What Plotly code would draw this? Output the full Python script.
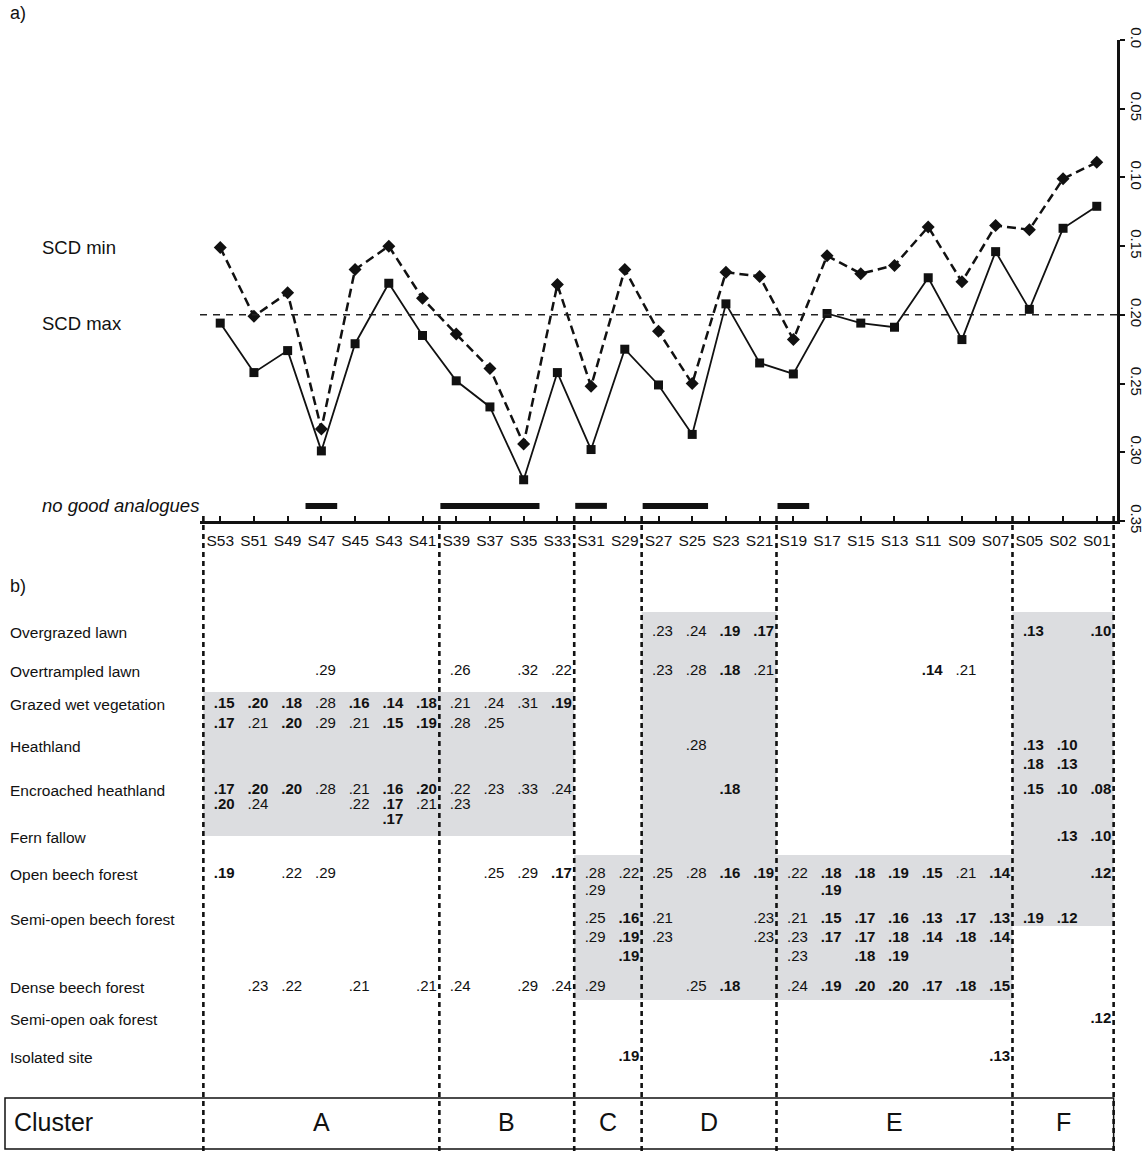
import plotly.graph_objects as go

W, H = 1145, 1151
FONT = "Liberation Sans, Arial, Helvetica, sans-serif"
INK = "#111111"

# ---------------- data ----------------
sites = ["S53", "S51", "S49", "S47", "S45", "S43", "S41", "S39", "S37", "S35", "S33",
         "S31", "S29", "S27", "S25", "S23", "S21", "S19", "S17", "S15", "S13", "S11",
         "S09", "S07", "S05", "S02", "S01"]
scd_min = [0.151, 0.201, 0.184, 0.283, 0.167, 0.150, 0.188, 0.214, 0.239, 0.294, 0.178,
           0.252, 0.167, 0.212, 0.250, 0.169, 0.172, 0.218, 0.157, 0.170, 0.164, 0.136,
           0.176, 0.135, 0.138, 0.101, 0.089]
scd_max = [0.206, 0.242, 0.226, 0.299, 0.221, 0.177, 0.215, 0.248, 0.267, 0.320, 0.242,
           0.298, 0.225, 0.251, 0.287, 0.192, 0.235, 0.243, 0.199, 0.206, 0.209, 0.173,
           0.218, 0.154, 0.196, 0.137, 0.121]
scd_threshold = 0.20
no_good_sites = ["S47", "S39", "S37", "S35", "S31", "S27", "S25", "S19"]
y_tick_values = [0.0, 0.05, 0.10, 0.15, 0.20, 0.25, 0.30, 0.35]
y_tick_labels = ["0.0", "0.05", "0.10", "0.15", "0.20", "0.25", "0.30", "0.35"]

cluster_names = ["A", "B", "C", "D", "E", "F"]
cluster_sizes = [7, 4, 2, 4, 7, 3]

habitats = ["Overgrazed lawn", "Overtrampled lawn", "Grazed wet vegetation", "Heathland",
            "Encroached heathland", "Fern fallow", "Open beech forest",
            "Semi-open beech forest", "Dense beech forest", "Semi-open oak forest",
            "Isolated site"]

# "*" marks a value printed in bold; several values per cell are separated by spaces
overgrazed_lawn = {"S27": ".23", "S25": ".24", "S23": "*.19", "S21": "*.17",
                   "S05": "*.13", "S01": "*.10"}
overtrampled_lawn = {"S47": ".29", "S39": ".26", "S35": ".32", "S33": ".22", "S27": ".23",
                     "S25": ".28", "S23": "*.18", "S21": ".21", "S11": "*.14", "S09": ".21"}
grazed_wet_vegetation = {"S53": "*.15 *.17", "S51": "*.20 .21", "S49": "*.18 *.20",
                         "S47": ".28 .29", "S45": "*.16 .21", "S43": "*.14 *.15",
                         "S41": "*.18 *.19", "S39": ".21 .28", "S37": ".24 .25",
                         "S35": ".31", "S33": "*.19"}
heathland = {"S25": ".28", "S05": "*.13 *.18", "S02": "*.10 *.13"}
encroached_heathland = {"S53": "*.17 *.20", "S51": "*.20 .24", "S49": "*.20", "S47": ".28",
                        "S45": ".21 .22", "S43": "*.16 *.17 *.17", "S41": "*.20 .21",
                        "S39": ".22 .23", "S37": ".23", "S35": ".33", "S33": ".24",
                        "S23": "*.18", "S05": "*.15", "S02": "*.10", "S01": "*.08"}
fern_fallow = {"S02": "*.13", "S01": "*.10"}
open_beech_forest = {"S53": "*.19", "S49": ".22", "S47": ".29", "S37": ".25", "S35": ".29",
                     "S33": "*.17", "S31": ".28 .29", "S29": ".22", "S27": ".25",
                     "S25": ".28", "S23": "*.16", "S21": "*.19", "S19": ".22",
                     "S17": "*.18 *.19", "S15": "*.18", "S13": "*.19", "S11": "*.15",
                     "S09": ".21", "S07": "*.14", "S01": "*.12"}
semi_open_beech_forest = {"S31": ".25 .29", "S29": "*.16 *.19 *.19", "S27": ".21 .23",
                          "S21": ".23 .23", "S19": ".21 .23 .23", "S17": "*.15 *.17",
                          "S15": "*.17 *.17 *.18", "S13": "*.16 *.18 *.19",
                          "S11": "*.13 *.14", "S09": "*.17 *.18", "S07": "*.13 *.14",
                          "S05": "*.19", "S02": "*.12"}
dense_beech_forest = {"S51": ".23", "S49": ".22", "S45": ".21", "S41": ".21", "S39": ".24",
                      "S35": ".29", "S33": ".24", "S31": ".29", "S25": ".25", "S23": "*.18",
                      "S19": ".24", "S17": "*.19", "S15": "*.20", "S13": "*.20",
                      "S11": "*.17", "S09": "*.18", "S07": "*.15"}
semi_open_oak_forest = {"S01": "*.12"}
isolated_site = {"S29": "*.19", "S07": "*.13"}

table_rows = [overgrazed_lawn, overtrampled_lawn, grazed_wet_vegetation, heathland,
              encroached_heathland, fern_fallow, open_beech_forest, semi_open_beech_forest,
              dense_beech_forest, semi_open_oak_forest, isolated_site]

# ---------------- layout geometry (pixels of the 1145x1151 page) ----------------
PX_L, PX_R, PX_T, PX_B = 200, 1117, 40, 521
X_LO, X_HI = -0.6, 26.6
ppu = (PX_R - PX_L) / (X_HI - X_LO)
x2_range = [X_LO - PX_L / ppu, X_HI + (W - PX_R) / ppu]
TABLE_TOP = 516
row_first = [632, 671, 704, 746, 790, 837, 874, 919, 987, 1019, 1057]
row_step = [18, 18, 20, 19, 15, 18, 17, 19, 18, 18, 18]
TEXT_DX = 0.12
NOGOOD_Y = 0.339
# shaded blocks: (first cluster, last cluster, first row, last row, top pad, bottom offset)
shades = [("A", "B", 2, 5, 12, -1), ("D", "D", 0, 8, 20, 13),
          ("C", "E", 6, 8, 19, 13), ("F", "F", 0, 7, 20, 7)]
CLUSTER_BOX = (1098, 1149)
CLUSTER_Y = 1122

idx = {s: i for i, s in enumerate(sites)}
xs = list(range(len(sites)))
bounds = [-0.5]
for n in cluster_sizes:
    bounds.append(bounds[-1] + n)

fig = go.Figure()

# threshold line
fig.add_shape(type="line", xref="x domain", yref="y", x0=0, x1=1, y0=scd_threshold,
              y1=scd_threshold, line=dict(color="#222", width=1.5, dash="7px,6px"))

fig.add_trace(go.Scatter(x=xs, y=scd_min, mode="lines+markers", name="SCD min",
                         line=dict(color=INK, width=2.5, dash="9px,5px"),
                         marker=dict(symbol="diamond", size=10, color=INK),
                         showlegend=False, hoverinfo="skip"))
fig.add_trace(go.Scatter(x=xs, y=scd_max, mode="lines+markers", name="SCD max",
                         line=dict(color=INK, width=1.8),
                         marker=dict(symbol="square", size=9, color=INK),
                         showlegend=False, hoverinfo="skip"))

# no good analogue bars
ng = sorted(idx[s] for s in no_good_sites)
runs = []
for i in ng:
    if runs and i == runs[-1][1] + 1:
        runs[-1][1] = i
    else:
        runs.append([i, i])
bx, by = [], []
for a, b in runs:
    bx += [a - 0.47, b + 0.47, None]
    by += [NOGOOD_Y, NOGOOD_Y, None]
fig.add_trace(go.Scatter(x=bx, y=by, mode="lines", line=dict(color=INK, width=6),
                         showlegend=False, hoverinfo="skip"))

# ---------------- table ----------------
for c0, c1, r0, r1, pad, off in shades:
    k0, k1 = cluster_names.index(c0), cluster_names.index(c1)
    fig.add_shape(type="rect", xref="x2", yref="y2", x0=bounds[k0], x1=bounds[k1 + 1],
                  y0=row_first[r0] - pad, y1=row_first[r1] + off,
                  fillcolor="#dcdde0", line=dict(width=0), layer="below")

sx, sy = [], []
for b in bounds:
    sx += [b, b, None]
    sy += [TABLE_TOP, H, None]
fig.add_trace(go.Scatter(x=sx, y=sy, xaxis="x2", yaxis="y2", mode="lines",
                         line=dict(color=INK, width=2.6, dash="5px,4px"),
                         showlegend=False, hoverinfo="skip"))

tx, ty, tt = [], [], []
for r, row in enumerate(table_rows):
    for s, cell in row.items():
        for j, tok in enumerate(cell.split()):
            v = tok.lstrip("*")
            tx.append(idx[s] + TEXT_DX)
            ty.append(row_first[r] + j * row_step[r])
            tt.append(f"<b>{v}</b>" if tok.startswith("*") else v)
fig.add_trace(go.Scatter(x=tx, y=ty, text=tt, mode="text", xaxis="x2", yaxis="y2",
                         textposition="middle center",
                         textfont=dict(size=15, family=FONT, color=INK),
                         showlegend=False, hoverinfo="skip", cliponaxis=False))

ann = []
for r, name in enumerate(habitats):
    ann.append(dict(text=name, xref="paper", x=8 / W, yref="y2", y=row_first[r],
                    xanchor="left", yanchor="middle", showarrow=False,
                    font=dict(size=15.5, family=FONT, color=INK)))

# cluster row
fig.add_shape(type="rect", xref="x2", yref="y2", x0=x2_range[0] + 5 / ppu, x1=bounds[-1],
              y0=CLUSTER_BOX[0], y1=CLUSTER_BOX[1], line=dict(color=INK, width=1.5))
ann.append(dict(text="Cluster", xref="paper", x=12 / W, yref="y2", y=CLUSTER_Y,
                xanchor="left", yanchor="middle", showarrow=False,
                font=dict(size=25, family=FONT, color=INK)))
for k, cname in enumerate(cluster_names):
    ann.append(dict(text=cname, xref="x2", x=(bounds[k] + bounds[k + 1]) / 2, yref="y2",
                    y=CLUSTER_Y, xanchor="center", yanchor="middle", showarrow=False,
                    font=dict(size=25, family=FONT, color=INK)))

# chart-side labels
ann.append(dict(text="SCD min", xref="paper", x=40 / W, yref="y", y=scd_min[0],
                xanchor="left", yanchor="middle", showarrow=False,
                font=dict(size=18.5, family=FONT, color=INK)))
ann.append(dict(text="SCD max", xref="paper", x=40 / W, yref="y", y=scd_max[0],
                xanchor="left", yanchor="middle", showarrow=False,
                font=dict(size=18.5, family=FONT, color=INK)))
ann.append(dict(text="<i>no good analogues</i>", xref="paper", x=40 / W, yref="y",
                y=NOGOOD_Y, xanchor="left", yanchor="middle", showarrow=False,
                font=dict(size=18.5, family=FONT, color=INK)))
ann.append(dict(text="a)", xref="paper", x=8 / W, yref="paper", y=1 - 13 / H,
                xanchor="left", yanchor="middle", showarrow=False,
                font=dict(size=18, family=FONT, color=INK)))
ann.append(dict(text="b)", xref="paper", x=8 / W, yref="paper", y=1 - 586 / H,
                xanchor="left", yanchor="middle", showarrow=False,
                font=dict(size=18, family=FONT, color=INK)))

fig.update_layout(
    width=W, height=H, autosize=False,
    margin=dict(l=0, r=0, t=0, b=0, pad=0),
    paper_bgcolor="white", plot_bgcolor="rgba(0,0,0,0)",
    font=dict(family=FONT, color=INK),
    annotations=ann,
    xaxis=dict(domain=[PX_L / W, PX_R / W], range=[X_LO, X_HI], anchor="y",
               tickmode="array", tickvals=xs, ticktext=sites, ticks="inside", ticklen=5,
               tickwidth=2, tickcolor=INK, showline=True, linewidth=2.5, linecolor=INK,
               showgrid=False, zeroline=False, automargin=False, ticklabelstandoff=4,
               tickfont=dict(size=15.5, family=FONT, color=INK), fixedrange=True),
    yaxis=dict(domain=[1 - PX_B / H, 1 - PX_T / H], range=[0.35, 0], anchor="x",
               side="right", tickmode="array", tickvals=y_tick_values,
               ticktext=y_tick_labels, ticks="outside", ticklen=5, tickwidth=2,
               tickcolor=INK, tickangle=90, showline=True, linewidth=2.5, linecolor=INK,
               showgrid=False, zeroline=False, automargin=False,
               tickfont=dict(size=15, family=FONT, color=INK), fixedrange=True),
    xaxis2=dict(domain=[0, 1], range=x2_range, anchor="y2", visible=False,
                fixedrange=True),
    yaxis2=dict(domain=[0, 1 - TABLE_TOP / H], range=[H, TABLE_TOP], anchor="x2",
                visible=False, fixedrange=True),
)

fig.write_html("out.html",
               config={"displayModeBar": False, "staticPlot": True},
               post_script="document.body.style.margin='0px';"
                           "document.body.style.overflow='hidden';")
